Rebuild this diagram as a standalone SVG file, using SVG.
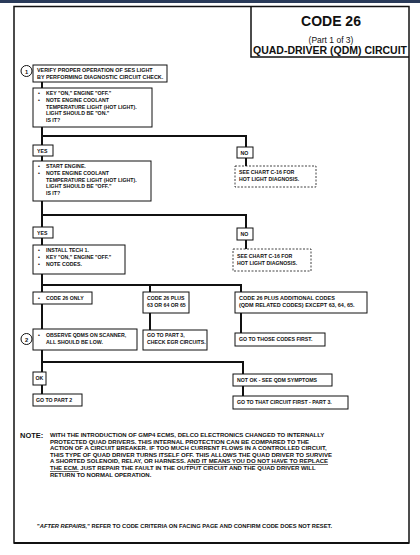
<svg xmlns="http://www.w3.org/2000/svg" width="420" height="555" viewBox="0 0 420 555">
<style>
.t{font-family:"Liberation Sans",Arial,sans-serif;font-weight:bold;font-size:5.8px;fill:#111}
.n{font-family:"Liberation Sans",Arial,sans-serif;font-weight:bold;font-size:6px;fill:#111}
.b{fill:#fff;stroke:#111;stroke-width:1}
.d{fill:#fff;stroke:#111;stroke-width:0.8;stroke-dasharray:2 1.5}
.c{fill:none;stroke:#111;stroke-width:2}
.u{text-decoration:underline}
</style>
<rect x="0" y="0" width="420" height="555" fill="#fff"/>
<rect x="0" y="0" width="420" height="3" fill="#2a3b5a"/>
<rect x="14" y="6.5" width="395" height="536.5" fill="none" stroke="#111" stroke-width="1.5"/>
<line x1="14" y1="543" x2="409" y2="543" stroke="#111" stroke-width="2"/>

<g id="title">
<path d="M251 6.5V57H409" fill="none" stroke="#111" stroke-width="1.5"/>
<text x="331" y="26" text-anchor="middle" font-family="Liberation Sans,Arial,sans-serif" font-weight="bold" font-size="14" fill="#111">CODE 26</text>
<text x="331" y="43" text-anchor="middle" font-family="Liberation Sans,Arial,sans-serif" font-size="8.5" fill="#111">(Part 1 of 3)</text>
<text x="330" y="54" text-anchor="middle" font-family="Liberation Sans,Arial,sans-serif" font-weight="bold" font-size="10.5" fill="#111">QUAD-DRIVER (QDM) CIRCUIT</text>
</g>

<g id="connectors">
<path class="c" d="M42 82V88M42 127V145M42 136H246V147M246 158V166M42 156V161M42 201V227M42 215H246V228M246 240V249M42 238V245M42 274V292M42 304V329M42 285H241V292M150 285V292M150 313V330M241 313V333M42 350V372M42 362H243V374M42 385V394M243 386V396"/>
</g>

<g id="step1">
<circle cx="26.5" cy="71" r="5.5" fill="#fff" stroke="#111" stroke-width="1"/>
<text x="26.5" y="73.5" text-anchor="middle" class="t" font-size="7">1</text>
</g>
<g id="box1">
<rect class="b" x="33" y="65" width="134" height="17"/>
<g transform="translate(37,0) scale(0.93,1)"><text class="t" x="0" y="72">VERIFY PROPER OPERATION OF SES LIGHT</text><text class="t" x="0" y="79">BY PERFORMING DIAGNOSTIC CIRCUIT CHECK.</text></g>
</g>
<g id="box2">
<rect class="b" x="33" y="88" width="119" height="39"/>
<g transform="translate(38,0) scale(0.9,1)"><text class="t" y="95">•</text><text class="t" y="101.8">•</text></g>
<g transform="translate(46,0) scale(0.9,1)"><text class="t" y="95">KEY "ON," ENGINE "OFF."</text><text class="t" y="101.8">NOTE ENGINE COOLANT</text><text class="t" y="108.6">TEMPERATURE LIGHT (HOT LIGHT).</text><text class="t" y="115.4">LIGHT SHOULD BE "ON."</text><text class="t" y="122.2">IS IT?</text></g>
</g>
<g id="yes1"><rect class="b" x="33" y="145" width="20" height="11"/><g transform="translate(37,0) scale(0.9,1)"><text class="t" y="152.6">YES</text></g></g>
<g id="no1"><rect class="b" x="237" y="147" width="16" height="11"/><g transform="translate(240.5,0) scale(0.9,1)"><text class="t" y="154.6">NO</text></g></g>
<g id="chart1"><rect class="d" x="235" y="166" width="81" height="21"/><g transform="translate(239,0) scale(0.9,1)"><text class="t" y="174">SEE CHART C-16  FOR</text><text class="t" y="181">HOT LIGHT DIAGNOSIS.</text></g></g>
<g id="box3">
<rect class="b" x="33" y="161" width="118" height="40"/>
<g transform="translate(38,0) scale(0.9,1)"><text class="t" y="168">•</text><text class="t" y="174.8">•</text></g>
<g transform="translate(46,0) scale(0.9,1)"><text class="t" y="168">START ENGINE.</text><text class="t" y="174.8">NOTE ENGINE COOLANT</text><text class="t" y="181.6">TEMPERATURE LIGHT (HOT LIGHT).</text><text class="t" y="188.4">LIGHT SHOULD BE "OFF."</text><text class="t" y="195.2">IS IT?</text></g>
</g>
<g id="yes2"><rect class="b" x="33" y="227" width="20" height="11"/><g transform="translate(37,0) scale(0.9,1)"><text class="t" y="234.6">YES</text></g></g>
<g id="no2"><rect class="b" x="237" y="228" width="16" height="12"/><g transform="translate(240.5,0) scale(0.9,1)"><text class="t" y="236">NO</text></g></g>
<g id="chart2"><rect class="d" x="233" y="249" width="78" height="22"/><g transform="translate(237,0) scale(0.9,1)"><text class="t" y="258">SEE CHART C-16 FOR</text><text class="t" y="265">HOT LIGHT DIAGNOSIS.</text></g></g>
<g id="box4">
<rect class="b" x="33" y="245" width="92" height="29"/>
<g transform="translate(38,0) scale(0.9,1)"><text class="t" y="252.5">•</text><text class="t" y="259.3">•</text><text class="t" y="266.1">•</text></g>
<g transform="translate(46,0) scale(0.9,1)"><text class="t" y="252.5">INSTALL TECH 1.</text><text class="t" y="259.3">KEY "ON," ENGINE "OFF."</text><text class="t" y="266.1">NOTE CODES.</text></g>
</g>
<g id="code26only"><rect class="b" x="33" y="292" width="59" height="12"/><g transform="translate(38,0) scale(0.9,1)"><text class="t" y="300">•</text></g><g transform="translate(46,0) scale(0.9,1)"><text class="t" y="300">CODE 26 ONLY</text></g></g>
<g id="code26plus"><rect class="b" x="143" y="292" width="46" height="21"/><g transform="translate(147,0) scale(0.9,1)"><text class="t" y="300">CODE 26 PLUS</text><text class="t" y="307">63 OR 64 OR 65</text></g></g>
<g id="code26add"><rect class="b" x="235" y="292" width="132" height="21"/><g transform="translate(239,0) scale(0.95,1)"><text class="t" y="300">CODE 26 PLUS ADDITIONAL CODES</text><text class="t" y="307">(QDM RELATED CODES) EXCEPT 63, 64, 65.</text></g></g>
<g id="step2">
<circle cx="26.5" cy="339" r="5.5" fill="#fff" stroke="#111" stroke-width="1"/>
<text x="26.5" y="341.5" text-anchor="middle" class="t" font-size="7">2</text>
</g>
<g id="observe"><rect class="b" x="33" y="329" width="104" height="21"/><g transform="translate(38,0) scale(0.9,1)"><text class="t" y="337.5">•</text></g><g transform="translate(46,0) scale(0.9,1)"><text class="t" y="337.5">OBSERVE QDMS ON SCANNER,</text><text class="t" y="344.5">ALL SHOULD BE LOW.</text></g></g>
<g id="part3egr"><rect class="b" x="143" y="330" width="64" height="20"/><g transform="translate(147,0) scale(0.9,1)"><text class="t" y="337.5">GO TO PART 3,</text><text class="t" y="344.5">CHECK EGR CIRCUITS.</text></g></g>
<g id="thosecodes"><rect class="b" x="235" y="333" width="90" height="13"/><g transform="translate(239,0) scale(0.9,1)"><text class="t" y="341.5">GO TO THOSE CODES FIRST.</text></g></g>
<g id="ok"><rect class="b" x="33" y="372" width="13" height="13"/><g transform="translate(35.5,0) scale(0.9,1)"><text class="t" y="380.5">OK</text></g></g>
<g id="notok"><rect class="b" x="233" y="374" width="99" height="12"/><g transform="translate(237,0) scale(0.9,1)"><text class="t" y="382">NOT OK - SEE QDM SYMPTOMS</text></g></g>
<g id="part2"><rect class="b" x="33" y="394" width="49" height="12"/><g transform="translate(36,0) scale(0.9,1)"><text class="t" y="402">GO TO PART 2</text></g></g>
<g id="thatcircuit"><rect class="b" x="233" y="396" width="115" height="13"/><g transform="translate(237,0) scale(0.9,1)"><text class="t" y="404.5">GO TO THAT CIRCUIT FIRST - PART 3.</text></g></g>

<g id="note">
<text x="20" y="438" font-family="Liberation Sans,Arial,sans-serif" font-weight="bold" font-size="7.5" fill="#111">NOTE:</text>
<g transform="translate(50,0) scale(1.0,1)">
<text class="n" x="0" y="437">WITH THE INTRODUCTION OF GMP4 ECMS, DELCO ELECTRONICS CHANGED TO INTERNALLY</text>
<text class="n" x="0" y="443.6">PROTECTED QUAD DRIVERS.  THIS INTERNAL PROTECTION CAN BE COMPARED TO THE</text>
<text class="n" x="0" y="450.2">ACTION OF A CIRCUIT BREAKER.  IF TOO MUCH CURRENT FLOWS IN A CONTROLLED CIRCUIT,</text>
<text class="n" x="0" y="456.8">THIS TYPE OF QUAD DRIVER TURNS ITSELF OFF.  THIS ALLOWS THE QUAD DRIVER TO SURVIVE</text>
<text class="n" x="0" y="463.4">A SHORTED SOLENOID, RELAY, OR HARNESS.  <tspan class="u">AND IT MEANS YOU DO NOT HAVE TO REPLACE</tspan></text>
<text class="n" x="0" y="470"><tspan class="u">THE ECM.</tspan>  JUST REPAIR THE FAULT IN THE OUTPUT CIRCUIT AND THE QUAD DRIVER WILL</text>
<text class="n" x="0" y="476.6">RETURN TO NORMAL OPERATION.</text>
</g>
</g>
<g id="after">
<text class="n" x="37" y="528" textLength="295" lengthAdjust="spacingAndGlyphs">"<tspan font-style="italic">AFTER REPAIRS,</tspan>" REFER TO CODE CRITERIA ON FACING PAGE AND CONFIRM CODE DOES NOT RESET.</text>
</g>
</svg>
